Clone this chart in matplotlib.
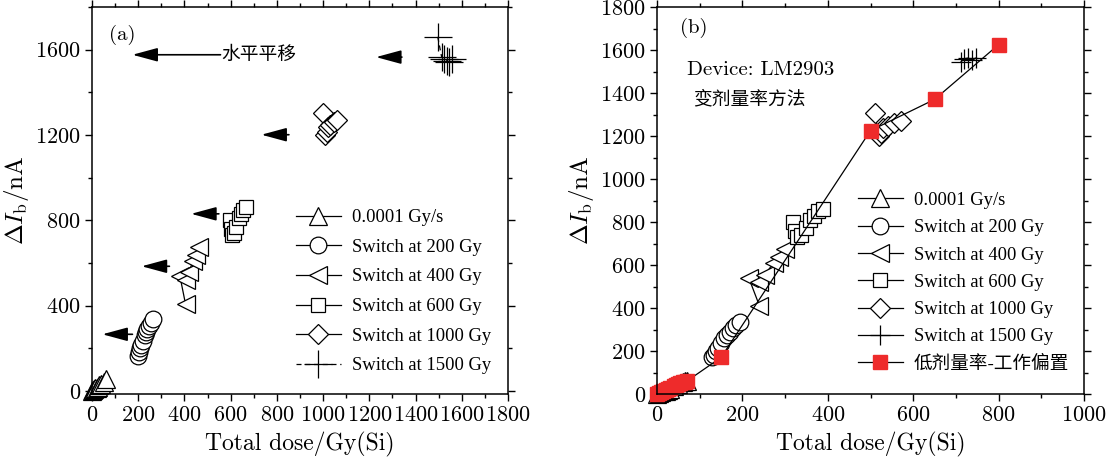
import matplotlib
matplotlib.use("Agg")
import matplotlib.pyplot as plt
from matplotlib.ticker import MultipleLocator
from matplotlib.font_manager import FontProperties

plt.rcParams['font.family'] = ['cmr10', 'DejaVu Serif']
plt.rcParams['mathtext.fontset'] = 'cm'
plt.rcParams['axes.formatter.use_mathtext'] = True

# ---------------- data: panel (a) ----------------
a_tri_x = [0, 5, 10, 15, 20, 25, 30, 40, 50, 60]
a_tri_y = [0, 5, 8, 12, 15, 20, 25, 30, 40, 55]
a_cir_x = [197, 203, 208, 213, 220, 228, 235, 240, 248, 255, 262]
a_cir_y = [165, 180, 200, 215, 235, 260, 275, 290, 305, 320, 335]
a_lt_x = [405, 380, 405, 418, 438, 450, 465]
a_lt_y = [405, 540, 520, 555, 610, 635, 675]
a_sq_x = [595, 600, 605, 615, 625, 635, 645, 655, 665]
a_sq_y = [800, 760, 730, 740, 770, 810, 830, 850, 860]
a_dia_x = [1000, 1010, 1015, 1020, 1030, 1045, 1060]
a_dia_y = [1305, 1200, 1215, 1235, 1245, 1260, 1270]
a_cr_x = [1496, 1513, 1523, 1535, 1545, 1556]
a_cr_y = [1660, 1565, 1557, 1549, 1542, 1557]

# arrows in (a): (tip_x, tail_x, y)
arrow_tip_x = [175, 1229, 733, 429, 215, 45]
arrow_tail_x = [556, 1341, 852, 549, 335, 175]
arrow_y = [1576, 1565, 1201, 830, 584, 265]

# ---------------- data: panel (b) ----------------
b_tri_x = [0, 5, 10, 15, 20, 25, 30, 40, 50, 60, 65, 70]
b_tri_y = [0, 5, 8, 12, 15, 20, 25, 35, 45, 55, 60, 62]
b_cir_x = [128, 133, 138, 143, 150, 158, 165, 170, 178, 185, 194]
b_cir_y = [170, 180, 200, 215, 235, 260, 275, 290, 305, 320, 334]
b_lt_x = [240, 215, 240, 253, 273, 285, 300]
b_lt_y = [410, 540, 520, 555, 610, 635, 675]
b_sq_x = [318, 323, 328, 338, 348, 358, 368, 378, 388]
b_sq_y = [800, 760, 730, 740, 770, 810, 830, 850, 862]
b_dia_x = [510, 520, 525, 530, 540, 555, 572]
b_dia_y = [1305, 1200, 1215, 1235, 1245, 1260, 1272]
b_cr_x = [712, 720, 728, 738, 746]
b_cr_y = [1545, 1560, 1562, 1555, 1562]
b_red_x = [0, 5, 10, 15, 20, 25, 30, 40, 45, 50, 55, 60, 65, 70, 150, 500, 650, 800]
b_red_y = [0, 5, 10, 15, 20, 25, 28, 38, 42, 48, 52, 55, 58, 60, 170, 1225, 1370, 1625]

labels = ['0.0001 Gy/s', 'Switch at 200 Gy', 'Switch at 400 Gy',
          'Switch at 600 Gy', 'Switch at 1000 Gy', 'Switch at 1500 Gy']
red_label = '低剂量率-工作偏置'
red_color = '#ee2b2b'

fig = plt.figure(figsize=(11.14, 4.63), dpi=100)
axa = fig.add_axes([92/1114, 69/463, 416/1114, 387/463])
axb = fig.add_axes([657/1114, 69/463, 427/1114, 387/463])

TICK_FS = 16
LABEL_FS = 17
YLABEL_FS = 18
LEG_FS = 13.4
leg_font = FontProperties(family=['Liberation Serif', 'Noto Sans CJK SC'],
                          size=LEG_FS)


def style_axes(ax):
    for s in ax.spines.values():
        s.set_linewidth(1.1)
    ax.tick_params(which='both', direction='out', top=True, right=True,
                   labeltop=False, labelright=False, width=1.0,
                   labelsize=TICK_FS, pad=3)
    ax.tick_params(which='major', length=5)
    ax.tick_params(which='minor', length=3)
    for t in ax.get_xticklabels() + ax.get_yticklabels():
        t.set_family(['cmr10'])


mk = dict(color='black', lw=0.9, mfc='white', mec='black', mew=0.9,
          clip_on=False)

# ---------- panel (a) ----------
ax = axa
ax.plot(a_tri_x, a_tri_y, marker='^', ms=13, label=labels[0], **mk)
ax.plot(a_cir_x, a_cir_y, marker='o', ms=12, label=labels[1], **mk)
ax.plot(a_lt_x, a_lt_y, marker='<', ms=13.5, label=labels[2], **mk)
ax.plot(a_sq_x, a_sq_y, marker='s', ms=10.5, label=labels[3], **mk)
ax.plot(a_dia_x, a_dia_y, marker='D', ms=10, label=labels[4], **mk)
ax.plot(a_cr_x, a_cr_y, marker='+', ms=20, ls='--', dashes=(4, 3),
        label=labels[5], **mk)
for tx, sx, yy in zip(arrow_tip_x, arrow_tail_x, arrow_y):
    ax.annotate('', xy=(tx, yy), xytext=(sx, yy),
                arrowprops=dict(arrowstyle='-|>,head_length=1.55,head_width=0.42',
                                mutation_scale=10, shrinkA=0, shrinkB=0,
                                color='black', lw=1.2))
ax.text(723, 1576, '水平平移', ha='center', va='center', fontsize=13.5,
        family=['Noto Sans CJK SC'])
ax.text(0.041, 0.928, '(a)', transform=ax.transAxes, ha='left', va='center',
        fontsize=15)
ax.set_xlim(0, 1800)
ax.set_ylim(-15, 1800)
ax.xaxis.set_major_locator(MultipleLocator(200))
ax.xaxis.set_minor_locator(MultipleLocator(100))
ax.set_yticks([0, 400, 800, 1200, 1600])
ax.yaxis.set_minor_locator(MultipleLocator(200))
ax.set_xlabel('Total dose/Gy(Si)', fontsize=LABEL_FS, labelpad=5)
ax.set_ylabel(r'$\Delta I_{\rm b}/{\rm nA}$', fontsize=YLABEL_FS, labelpad=3)
style_axes(ax)
ax.legend(loc='upper left', bbox_to_anchor=(0.49, 0.478), frameon=False,
          prop=leg_font, handlelength=2.4, handletextpad=0.6,
          labelspacing=0.68, borderpad=0, borderaxespad=0)

# ---------- panel (b) ----------
ax = axb
ax.plot(b_tri_x, b_tri_y, marker='^', ms=13, label=labels[0], **mk)
ax.plot(b_cir_x, b_cir_y, marker='o', ms=12, label=labels[1], **mk)
ax.plot(b_lt_x, b_lt_y, marker='<', ms=13.5, label=labels[2], **mk)
ax.plot(b_sq_x, b_sq_y, marker='s', ms=10.5, label=labels[3], **mk)
ax.plot(b_dia_x, b_dia_y, marker='D', ms=10, label=labels[4], **mk)
ax.plot(b_cr_x, b_cr_y, marker='+', ms=14, label=labels[5], **mk)
ax.plot(b_red_x, b_red_y, marker='s', ms=10, color='black', lw=0.9,
        mfc=red_color, mec=red_color, label=red_label, clip_on=False)
ax.text(70, 1506, 'Device: LM2903', ha='left', va='center', fontsize=15)
ax.text(84, 1375, '变剂量率方法', ha='left', va='center', fontsize=13.5,
        family=['Noto Sans CJK SC'])
ax.text(0.054, 0.946, '(b)', transform=ax.transAxes, ha='left', va='center',
        fontsize=15)
ax.set_xlim(0, 1000)
ax.set_ylim(0, 1800)
ax.xaxis.set_major_locator(MultipleLocator(200))
ax.xaxis.set_minor_locator(MultipleLocator(100))
ax.yaxis.set_major_locator(MultipleLocator(200))
ax.yaxis.set_minor_locator(MultipleLocator(100))
ax.set_xlabel('Total dose/Gy(Si)', fontsize=LABEL_FS, labelpad=5)
ax.set_ylabel(r'$\Delta I_{\rm b}/{\rm nA}$', fontsize=YLABEL_FS, labelpad=3)
style_axes(ax)
ax.legend(loc='upper left', bbox_to_anchor=(0.471, 0.522), frameon=False,
          prop=leg_font, handlelength=2.4, handletextpad=0.6,
          labelspacing=0.55, borderpad=0, borderaxespad=0)

fig.savefig('out.png', dpi=100)
